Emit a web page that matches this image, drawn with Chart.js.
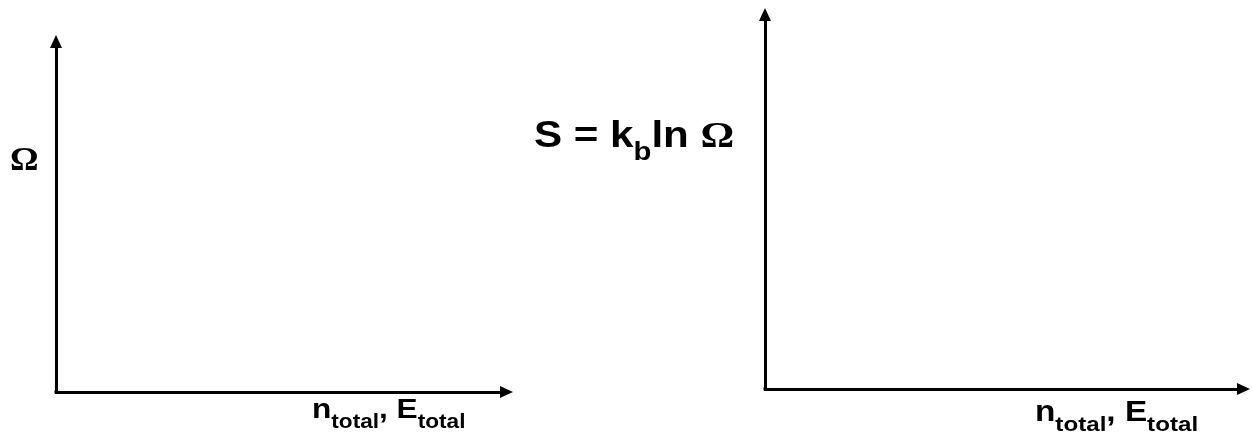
<!DOCTYPE html>
<html>
<head>
<meta charset="utf-8">
<script src="https://cdn.jsdelivr.net/npm/chart.js@4.4.0/dist/chart.umd.min.js"></script>
<style>
    html, body { margin: 0; padding: 0; background: #fff; }
    body { width: 1252px; height: 436px; position: relative; overflow: hidden; }
    .panel { position: absolute; top: 0; height: 436px; }
    #leftPanel { left: 0; width: 540px; }
    #rightPanel { left: 500px; width: 752px; }
</style>
</head>
<body>
<div class="panel" id="leftPanel"><canvas id="leftChart"></canvas></div>
<div class="panel" id="rightPanel"><canvas id="rightChart"></canvas></div>
<script>
// 坐标轴范围（图中只有空坐标轴，没有数据点）
const axisRange = [0, 1];
const seriesValues = [];

// 轴标题：[正文, 下标]
const leftYTitle = [['Ω', '']];
const rightYTitle = [['S = k', 'b'], ['ln ', ''], ['Ω', '']];
const xTitle = [['n', 'total'], [', E', 'total']];

// 画带下标的文字（原图横向被拉宽，这里用 scale 还原）
function drawRich(ctx, parts, x, y, st) {
    ctx.save();
    ctx.translate(x, y);
    ctx.scale(st.stretch, 1);
    ctx.fillStyle = '#000';
    ctx.textBaseline = 'alphabetic';
    let cx = 0;
    parts.forEach(([base, sub]) => {
        if (base) {
            ctx.font = base === 'Ω' ? st.symbolFont : st.font;
            ctx.fillText(base, cx, 0);
            cx += ctx.measureText(base).width;
        }
        if (sub) {
            ctx.font = st.subFont;
            ctx.fillText(sub, cx, st.subDrop);
            cx += ctx.measureText(sub).width;
        }
    });
    ctx.restore();
}

// 箭头和轴标题
const axisDecor = {
    id: 'axisDecor',
    afterDraw(chart, args, opts) {
        const ctx = chart.ctx;
        const { left, right, top, bottom } = chart.chartArea;
        const len = opts.arrowLen, half = opts.arrowHalf;

        ctx.save();
        ctx.fillStyle = '#000';
        // y 轴箭头
        ctx.beginPath();
        ctx.moveTo(left, top - len);
        ctx.lineTo(left - half, top);
        ctx.lineTo(left + half, top);
        ctx.closePath();
        ctx.fill();
        // x 轴箭头
        ctx.beginPath();
        ctx.moveTo(right + len, bottom);
        ctx.lineTo(right, bottom - half);
        ctx.lineTo(right, bottom + half);
        ctx.closePath();
        ctx.fill();
        // 拐角补齐
        ctx.fillRect(left - 1.5, bottom - 1.5, 3, 3);
        ctx.restore();

        drawRich(ctx, opts.yTitle, opts.yPos[0], opts.yPos[1], opts.yStyle);
        drawRich(ctx, opts.xTitle, opts.xPos[0], opts.xPos[1], opts.xStyle);
    }
};

function makeChart(id, padding, decor) {
    const ctx = document.getElementById(id).getContext('2d');
    return new Chart(ctx, {
        type: 'scatter',
        data: {
            datasets: [{
                data: seriesValues,
                showLine: true,
                borderColor: '#000'
            }]
        },
        options: {
            responsive: true,
            maintainAspectRatio: false,
            animation: false,
            layout: { padding: padding },
            plugins: {
                legend: { display: false },
                tooltip: { enabled: false },
                axisDecor: decor
            },
            scales: {
                x: {
                    type: 'linear',
                    min: axisRange[0],
                    max: axisRange[1],
                    grid: { display: false, drawTicks: false },
                    ticks: { display: false },
                    border: { display: true, color: '#000', width: 3 }
                },
                y: {
                    type: 'linear',
                    min: axisRange[0],
                    max: axisRange[1],
                    grid: { display: false, drawTicks: false },
                    ticks: { display: false },
                    border: { display: true, color: '#000', width: 3 }
                }
            }
        },
        plugins: [axisDecor]
    });
}

const sans = 'Arial, "Liberation Sans", sans-serif';
const serif = '"Times New Roman", "Liberation Serif", serif';

makeChart('leftChart', { left: 56, top: 48, right: 40, bottom: 44 }, {
    arrowLen: 13,
    arrowHalf: 6,
    yTitle: leftYTitle,
    yPos: [10, 170],
    yStyle: { font: 'bold 34px ' + sans, symbolFont: 'bold 34px ' + serif, subFont: 'bold 24px ' + sans, subDrop: 14, stretch: 1.05 },
    xTitle: xTitle,
    xPos: [312, 418],
    xStyle: { font: 'bold 28px ' + sans, symbolFont: 'bold 28px ' + serif, subFont: 'bold 20px ' + sans, subDrop: 10, stretch: 1.13 }
});

makeChart('rightChart', { left: 265, top: 21, right: 15, bottom: 47 }, {
    arrowLen: 13,
    arrowHalf: 6,
    yTitle: rightYTitle,
    yPos: [34, 147],
    yStyle: { font: 'bold 36px ' + sans, symbolFont: 'bold 36px ' + serif, subFont: 'bold 25px ' + sans, subDrop: 13, stretch: 1.17 },
    xTitle: xTitle,
    xPos: [535, 421],
    xStyle: { font: 'bold 29px ' + sans, symbolFont: 'bold 29px ' + serif, subFont: 'bold 21px ' + sans, subDrop: 10, stretch: 1.15 }
});
</script>
</body>
</html>
